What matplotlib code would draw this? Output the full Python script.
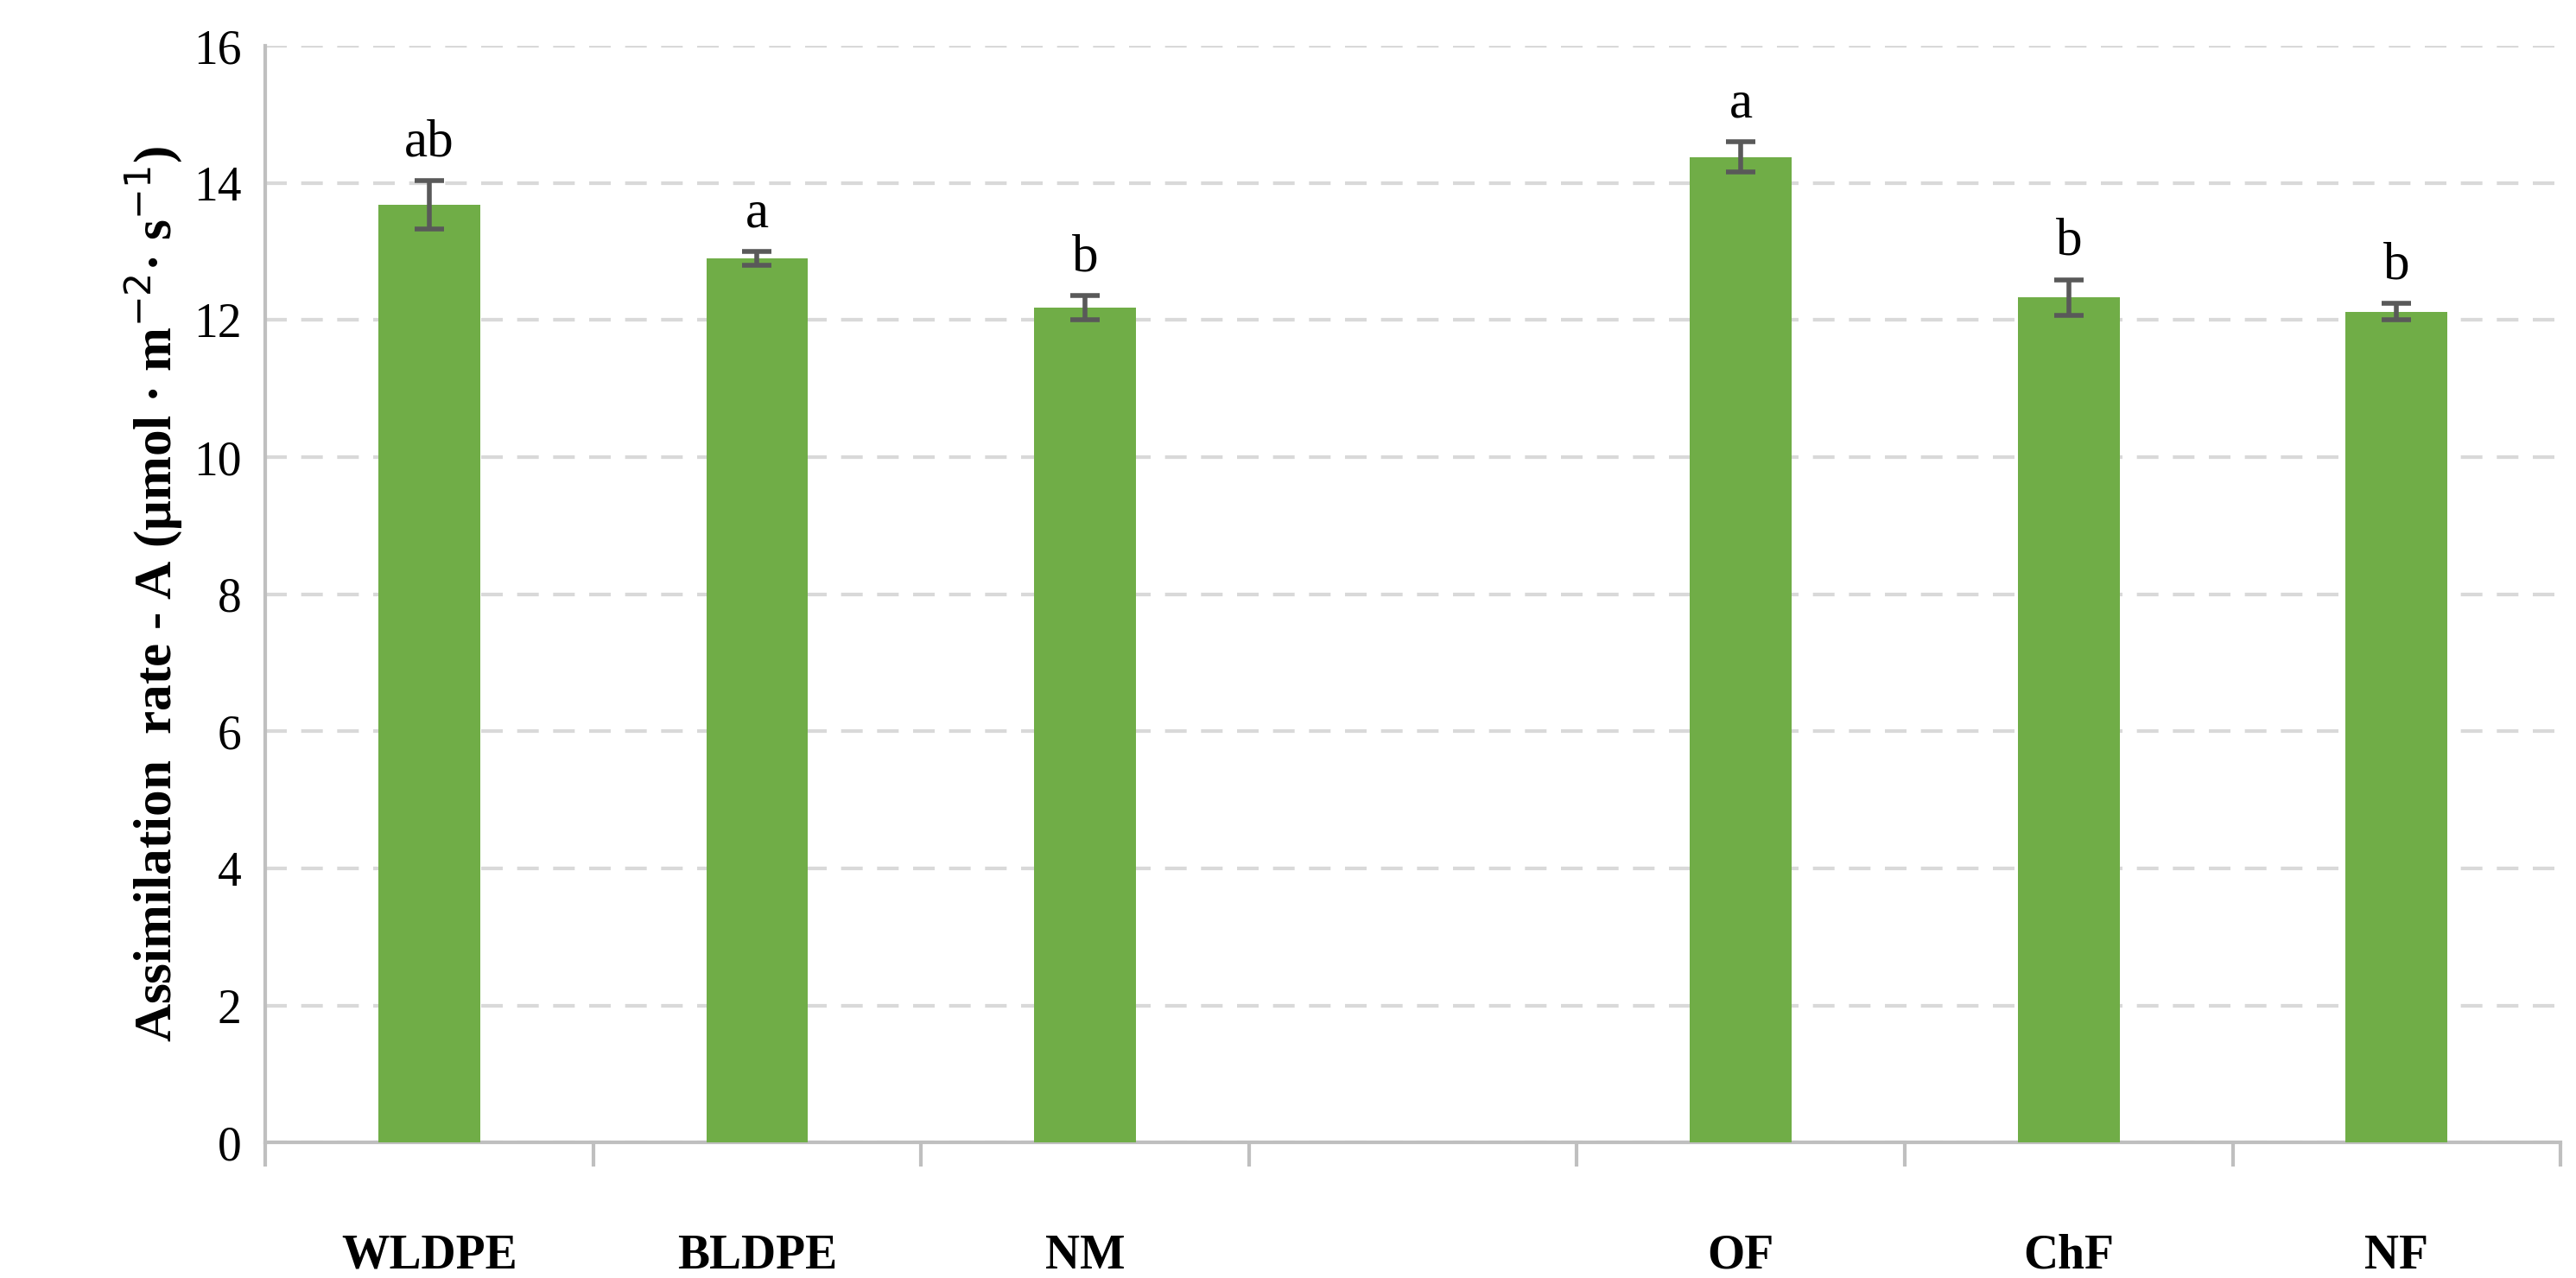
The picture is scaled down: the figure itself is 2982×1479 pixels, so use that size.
import matplotlib.pyplot as plt
import numpy as np

categories = ["WLDPE", "BLDPE", "NM", "", "OF", "ChF", "NF"]
means = [13.68, 12.90, 12.18, np.nan, 14.38, 12.33, 12.12]
errs = [0.35, 0.10, 0.18, np.nan, 0.22, 0.26, 0.12]
letters = ["ab", "a", "b", "", "a", "b", "b"]

plt.rcParams["font.family"] = ["Liberation Serif", "DejaVu Serif"]

fig = plt.figure(figsize=(14.91, 7.395), dpi=200)
ax = fig.add_axes([0.103, 0.106, 0.891, 0.858])

x = np.arange(len(categories))
ax.bar(x, means, 0.31, color="#70AD47", zorder=3)
ax.errorbar(x, means, yerr=errs, fmt="none", ecolor="#595959",
            elinewidth=2, capsize=6, capthick=2, zorder=4)

for xi, m, e, lab in zip(x, means, errs, letters):
    if lab:
        ax.text(xi, m + e + 0.2, lab, ha="center", va="bottom", fontsize=22)

ax.set_xlim(-0.5, len(categories) - 0.5)
ax.set_ylim(0, 16)
ax.set_yticks(np.arange(0, 17, 2))
ax.tick_params(axis="y", labelsize=20, length=0, pad=10)
ax.yaxis.grid(True, linestyle=(0, (6, 4)), color="#D9D9D9", linewidth=1.5, zorder=0)

ax.set_xticks(np.arange(-0.5, len(categories), 1))
ax.set_xticklabels([])
ax.set_xticks(x, minor=True)
ax.set_xticklabels(categories, minor=True, fontsize=20, fontweight="bold")
ax.tick_params(axis="x", which="major", length=10, color="#BFBFBF", width=1.5)
ax.tick_params(axis="x", which="minor", length=0, pad=38)

for s in ["top", "right"]:
    ax.spines[s].set_visible(False)
for s in ["left", "bottom"]:
    ax.spines[s].set_color("#BFBFBF")
    ax.spines[s].set_linewidth(1.5)

ax.set_ylabel("Assimilation  rate - A (μmol · m$^{-2}$· s$^{-1}$)",
              fontsize=22, fontweight="bold")

fig.savefig("out.png", dpi=200)
